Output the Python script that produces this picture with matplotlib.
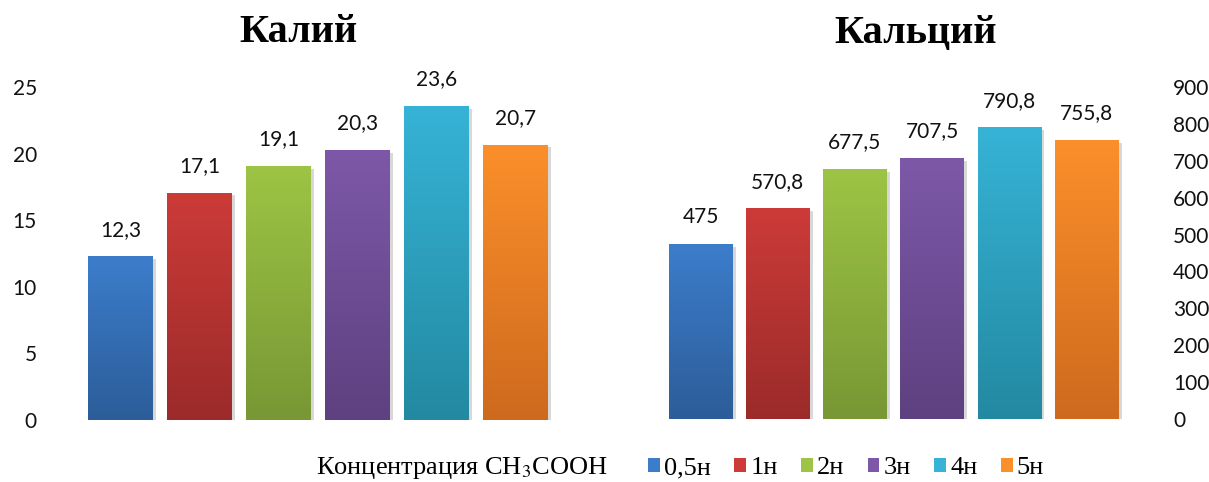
import matplotlib
matplotlib.use('Agg')
import matplotlib.pyplot as plt
import matplotlib.patheffects as pe
from matplotlib.colors import LinearSegmentedColormap
from matplotlib.patches import Patch
import numpy as np

# Концентрации уксусной кислоты и извлечённые количества
concentrations = ['0,5н', '1н', '2н', '3н', '4н', '5н']
kalii = [12.3, 17.1, 19.1, 20.3, 23.6, 20.7]
kalcii = [475, 570.8, 677.5, 707.5, 790.8, 755.8]

# верх и низ градиента каждого столбика
top_colors = ['#3c7dcb', '#cc3b38', '#9dc444', '#7d58a8', '#36b3d6', '#fb8f2a']
bottom_colors = ['#2c5d99', '#9b2b2a', '#789735', '#5e4180', '#2389a1', '#ce6a1e']

plt.rcParams['font.family'] = ['Lato', 'DejaVu Sans']
plt.rcParams['mathtext.fontset'] = 'stix'

SERIF = 'Liberation Serif'


def fmt(v):
    return f"{v:g}".replace('.', ',')


def draw_panel(ax, values, ymax, step, side):
    x = np.arange(len(values))
    bars = ax.bar(x, values, width=0.82, color=top_colors, zorder=2)
    grad = np.linspace(0, 1, 256).reshape(-1, 1)
    for bar, c_top, c_bot, v in zip(bars, top_colors, bottom_colors, values):
        bar.set_path_effects([pe.SimplePatchShadow(offset=(2.5, -2), shadow_rgbFace='#808080', alpha=0.3),
                              pe.Normal()])
        x0, w, h = bar.get_x(), bar.get_width(), bar.get_height()
        cmap = LinearSegmentedColormap.from_list('g', [c_bot, c_top])
        im = ax.imshow(grad, extent=[x0, x0 + w, 0, h], origin='lower', cmap=cmap,
                       aspect='auto', zorder=3, interpolation='bilinear')
        im.set_clip_path(bar)
        ax.annotate(fmt(v), (x0 + w / 2, h), xytext=(0, 12), textcoords='offset points',
                    ha='center', va='bottom', fontsize=15, color='#111111')
    ax.set_xlim(-0.6, len(values) - 0.4)
    ax.set_ylim(0, ymax)
    ax.set_yticks(np.arange(0, ymax + 1, step))
    ax.set_xticks([])
    for s in ax.spines.values():
        s.set_visible(False)
    pad = 26
    if side == 'right':
        ax.yaxis.tick_right()
        pad = 29
    ax.tick_params(axis='y', length=0, pad=pad, labelsize=15, labelcolor='#111111')


fig = plt.figure(figsize=(12.09, 4.82), dpi=100)
ax1 = fig.add_axes([0.0604, 0.1286, 0.4053, 0.690])
ax2 = fig.add_axes([0.5411, 0.1307, 0.3959, 0.6888])

draw_panel(ax1, kalii, 25, 5, 'left')
draw_panel(ax2, kalcii, 900, 100, 'right')

fig.text(298 / 1209, 1 - 33 / 482, 'Калий', ha='center', va='center',
         fontsize=29, fontweight='bold', family=SERIF)
fig.text(916 / 1209, 1 - 33 / 482, 'Кальций', ha='center', va='center',
         fontsize=29, fontweight='bold', family=SERIF)

fig.text(316 / 1209, 1 - 468 / 482, 'Концентрация CH$_3$COOH', ha='left', va='center',
         fontsize=19, family=SERIF)

handles = [Patch(facecolor=c) for c in top_colors]
fig.legend(handles, concentrations, loc='center left', bbox_to_anchor=(648 / 1209, 1 - 468 / 482),
           ncol=6, frameon=False, borderpad=0, borderaxespad=0,
           handlelength=0.45, handleheight=0.45, handletextpad=0.16,
           columnspacing=0.88, prop={'family': SERIF, 'size': 19})

fig.savefig('out.png', dpi=100)
